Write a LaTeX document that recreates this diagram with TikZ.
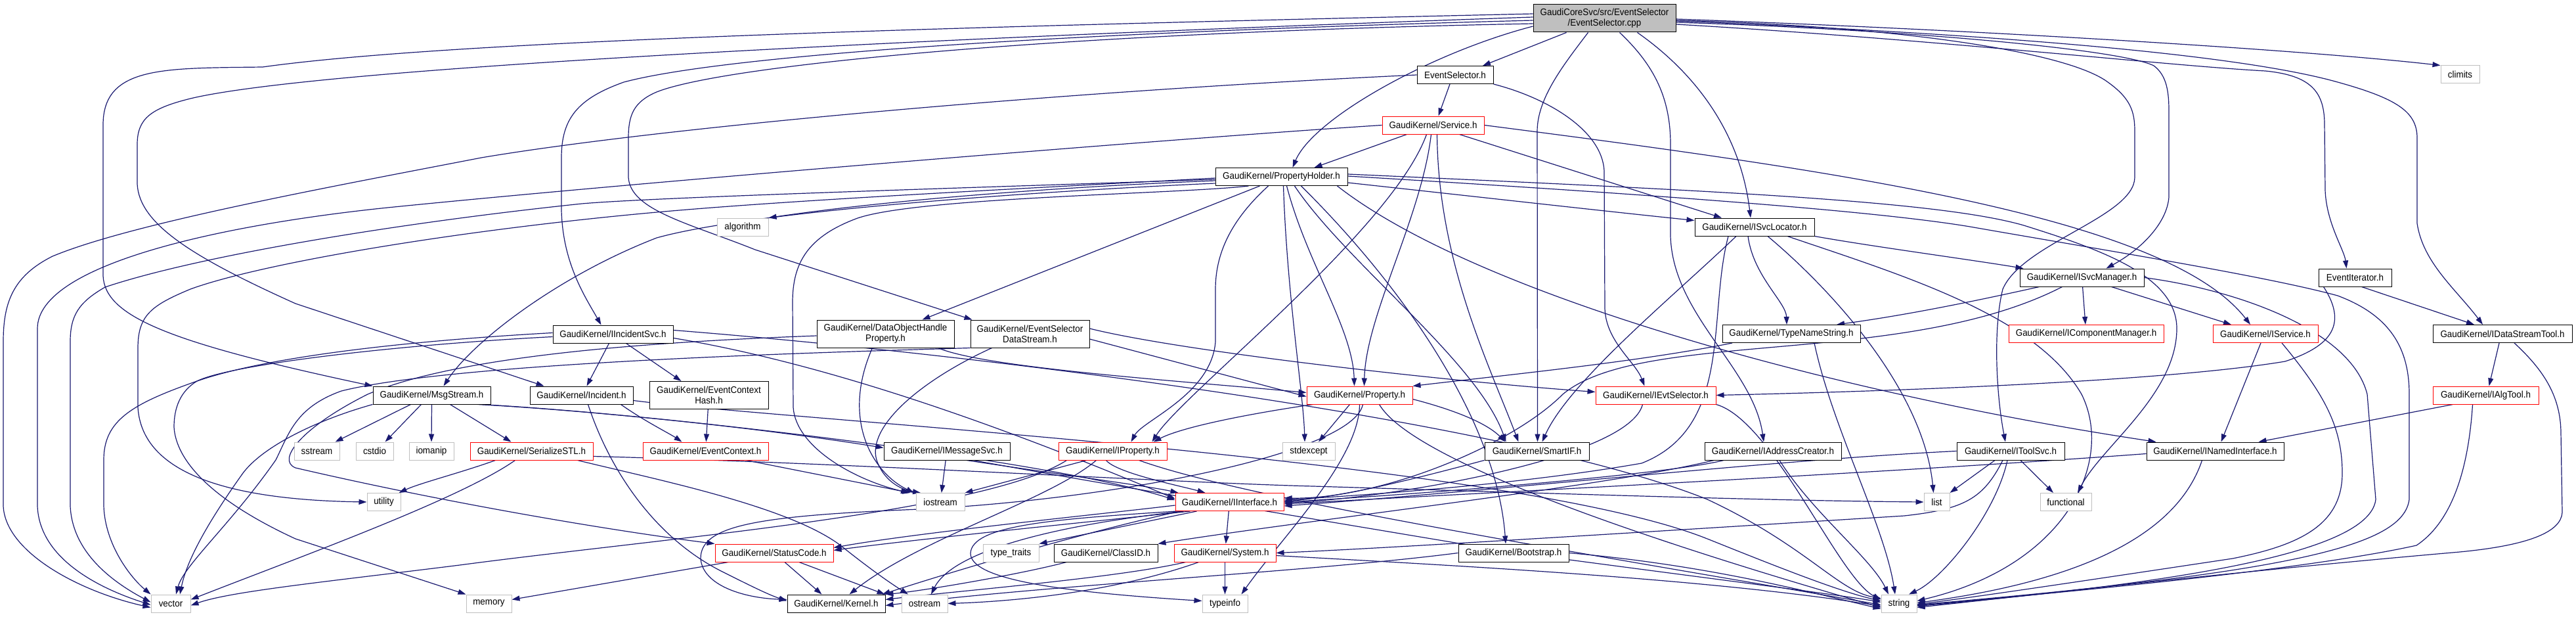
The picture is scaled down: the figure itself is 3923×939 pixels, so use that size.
\documentclass[tikz,border=0pt]{standalone}
\usepackage{fontspec}
\setmainfont{Liberation Sans}[FakeStretch=0.93]
\usetikzlibrary{arrows.meta}

\definecolor{azul}{HTML}{191970}
\definecolor{cinza}{HTML}{BFBFBF}
\pgfdeclarelayer{fundo}
\pgfsetlayers{fundo,main}

\begin{document}
\begin{tikzpicture}[
    x=1pt, y=1pt,
    every node/.style={rectangle, draw, fill=white, line width=1pt, inner sep=0pt,
      minimum height=27pt, align=center,
      font=\fontsize{14.4}{16}\selectfont},
    cab/.style={draw=black},
    cabv/.style={draw=red},
    sis/.style={draw=cinza},
    raiz/.style={draw=black, fill=cinza, minimum height=42pt},
    duas/.style={minimum height=42pt},
    incl/.style={draw=azul, line width=1.2pt, -{Triangle[length=12pt,width=8pt]}}
  ]
  \useasboundingbox (0,0) rectangle (3923,-939);

  % Arquivos
  \node[raiz, minimum width=217] (r) at (2443.5,-28) {GaudiCoreSvc/src/EventSelector\\/EventSelector.cpp};
  \node[cab, minimum width=116] (evsel) at (2216,-114) {EventSelector.h};
  \node[sis, minimum width=59] (climits) at (3746.5,-113.5) {climits};
  \node[cabv, minimum width=155] (service) at (2182.5,-190.5) {GaudiKernel/Service.h};
  \node[cab, minimum width=201] (propholder) at (1951.5,-269) {GaudiKernel/PropertyHolder.h};
  \node[sis, minimum width=78] (algorithm) at (1131,-345.5) {algorithm};
  \node[cab, minimum width=182] (isvclocator) at (2672,-345.5) {GaudiKernel/ISvcLocator.h};
  \node[cab, minimum width=189] (isvcmanager) at (3170.5,-422.5) {GaudiKernel/ISvcManager.h};
  \node[cab, minimum width=111] (eventiterator) at (3586.5,-422.5) {EventIterator.h};
  \node[cab, minimum width=183] (iincsvc) at (933.5,-508.5) {GaudiKernel/IIncidentSvc.h};
  \node[cab, duas, minimum width=209] (dohp) at (1348.5,-508) {GaudiKernel/DataObjectHandle\\Property.h};
  \node[cab, duas, minimum width=181] (esds) at (1568.5,-508) {GaudiKernel/EventSelector\\DataStream.h};
  \node[cab, minimum width=210] (typename) at (2728,-508) {GaudiKernel/TypeNameString.h};
  \node[cabv, minimum width=236] (icompmgr) at (3177,-508) {GaudiKernel/IComponentManager.h};
  \node[cabv, minimum width=160] (iservice) at (3450,-508) {GaudiKernel/IService.h};
  \node[cab, minimum width=212] (idstool) at (3811,-508) {GaudiKernel/IDataStreamTool.h};
  \node[cab, minimum width=179] (msgstream) at (657.5,-601.5) {GaudiKernel/MsgStream.h};
  \node[cab, minimum width=157] (incident) at (885.5,-601.5) {GaudiKernel/Incident.h};
  \node[cab, duas, minimum width=181] (ech) at (1079.5,-601.5) {GaudiKernel/EventContext\\Hash.h};
  \node[cabv, minimum width=161] (property) at (2070.5,-601.5) {GaudiKernel/Property.h};
  \node[cabv, minimum width=183] (ievtsel) at (2521.5,-601.5) {GaudiKernel/IEvtSelector.h};
  \node[cabv, minimum width=161] (ialgtool) at (3785.5,-601.5) {GaudiKernel/IAlgTool.h};
  \node[sis, minimum width=69] (sstream) at (482.5,-686.5) {sstream};
  \node[sis, minimum width=57] (cstdio) at (570.5,-686.5) {cstdio};
  \node[sis, minimum width=68] (iomanip) at (657,-686.5) {iomanip};
  \node[cabv, minimum width=187] (serstl) at (809.5,-686.5) {GaudiKernel/SerializeSTL.h};
  \node[cabv, minimum width=191] (evctx) at (1074.5,-686.5) {GaudiKernel/EventContext.h};
  \node[cab, minimum width=192] (imsgsvc) at (1442,-686.5) {GaudiKernel/IMessageSvc.h};
  \node[cabv, minimum width=165] (iprop) at (1694.5,-686.5) {GaudiKernel/IProperty.h};
  \node[sis, minimum width=80] (stdexcept) at (1993,-686.5) {stdexcept};
  \node[cab, minimum width=159] (smartif) at (2340.5,-686.5) {GaudiKernel/SmartIF.h};
  \node[cab, minimum width=208] (iaddr) at (2700,-686.5) {GaudiKernel/IAddressCreator.h};
  \node[cab, minimum width=164] (itoolsvc) at (3062,-686.5) {GaudiKernel/IToolSvc.h};
  \node[cab, minimum width=209] (inamed) at (3373.5,-686.5) {GaudiKernel/INamedInterface.h};
  \node[sis, minimum width=51] (utility) at (584.5,-764) {utility};
  \node[sis, minimum width=74] (iostream) at (1432,-764) {iostream};
  \node[cabv, minimum width=165] (iinterface) at (1872.5,-764) {GaudiKernel/IInterface.h};
  \node[sis, minimum width=39] (list) at (2949.5,-764) {list};
  \node[sis, minimum width=78] (functional) at (3146,-764) {functional};
  \node[cabv, minimum width=180] (statuscode) at (1179,-841.5) {GaudiKernel/StatusCode.h};
  \node[sis, minimum width=85] (typetraits) at (1539.5,-841.5) {type\_traits};
  \node[cab, minimum width=158] (classid) at (1684,-841.5) {GaudiKernel/ClassID.h};
  \node[cabv, minimum width=155] (system) at (1865.5,-841.5) {GaudiKernel/System.h};
  \node[cab, minimum width=168] (bootstrap) at (2305,-841.5) {GaudiKernel/Bootstrap.h};
  \node[sis, minimum width=60] (vector) at (260,-918.5) {vector};
  \node[sis, minimum width=69] (memory) at (744.5,-918.5) {memory};
  \node[cab, minimum width=149] (kernel) at (1273.5,-918.5) {GaudiKernel/Kernel.h};
  \node[sis, minimum width=70] (ostream) at (1408,-918.5) {ostream};
  \node[sis, minimum width=69] (typeinfo) at (1865.5,-918.5) {typeinfo};
  \node[sis, minimum width=54] (string) at (2892,-918.5) {string};

  \begin{pgfonlayer}{fundo}
  % Inclusoes do arquivo principal
  \draw[incl] ([xshift=-58]r.south) -- ([xshift=42]evsel.north);
  \draw[incl] ([yshift=-12]r.west) .. controls (2180,-80) and (2000,-180) .. ([xshift=17]propholder.north);
  \draw[incl] ([yshift=-3]r.west) .. controls (1600,-50) and (1100,-85) .. (950,-125) .. controls (880,-150) and (855,-180) .. (855,-240) -- (855,-320) .. controls (857,-400) and (890,-450) .. ([xshift=-18]iincsvc.north);
  \draw[incl] ([yshift=2]r.west) .. controls (1500,-55) and (500,-100) .. (290,-150) .. controls (230,-165) and (209,-180) .. (209,-220) -- (209,-280) .. controls (212,-340) and (290,-390) .. (450,-462) -- ([xshift=-57]incident.north);
  \draw[incl] ([yshift=7]r.west) .. controls (1500,-40) and (700,-60) .. (400,-102) .. controls (250,-104) and (157,-100) .. (157,-190) -- (157,-420) .. controls (160,-480) and (250,-520) .. (msgstream.north west);
  \draw[incl] ([yshift=-8]r.west) .. controls (1600,-50) and (1100,-100) .. (1000,-140) .. controls (965,-155) and (957,-175) .. (957,-210) -- (957,-270) .. controls (960,-320) and (1050,-340) .. (1150,-380) -- ([xshift=-88]esds.north);
  \draw[incl] ([xshift=-25]r.south) .. controls (2380,-100) and (2341,-150) .. (2341,-200) -- ([xshift=1]smartif.north);
  \draw[incl] ([xshift=23]r.south) .. controls (2520,-100) and (2544,-150) .. (2544,-220) -- (2544,-360) .. controls (2548,-480) and (2670,-560) .. ([xshift=-14]iaddr.north);
  \draw[incl] ([xshift=50]r.south) .. controls (2580,-110) and (2650,-200) .. ([xshift=-6]isvclocator.north);
  \draw[incl] ([yshift=-6]r.east) .. controls (2900,-45) and (3230,-75) .. (3280,-100) .. controls (3300,-115) and (3303,-140) .. (3303,-170) -- (3303,-300) .. controls (3300,-340) and (3260,-380) .. ([xshift=37]isvcmanager.north);
  \draw[incl] ([yshift=-3]r.east) .. controls (2900,-40) and (3150,-80) .. (3210,-125) .. controls (3245,-150) and (3251,-170) .. (3251,-200) -- (3251,-270) .. controls (3250,-330) and (3080,-370) .. (3050,-440) .. controls (3035,-500) and (3040,-600) .. ([xshift=-8]itoolsvc.north);
  \draw[incl] ([yshift=-9]r.east) .. controls (2950,-60) and (3300,-100) .. (3450,-108) .. controls (3520,-115) and (3540,-140) .. (3540,-190) -- (3541,-290) .. controls (3543,-340) and (3570,-380) .. ([xshift=-13]eventiterator.north);
  \draw[incl] ([yshift=-4]r.east) .. controls (3000,-50) and (3400,-80) .. (3560,-125) .. controls (3650,-150) and (3681,-170) .. (3681,-210) -- (3681,-340) .. controls (3690,-400) and (3740,-440) .. ([xshift=-30]idstool.north);
  \draw[incl] ([yshift=-1]r.east) .. controls (3000,-45) and (3500,-75) .. (climits.north west);

  % EventSelector.h e Service.h
  \draw[incl] ([xshift=-8]evsel.south) -- ([xshift=8]service.north);
  \draw[incl] (evsel.south east) .. controls (2360,-150) and (2440,-200) .. (2443,-260) -- (2444,-470) .. controls (2446,-520) and (2490,-550) .. ([xshift=-17]ievtsel.north);
  \draw[incl] (evsel.west) .. controls (1600,-140) and (1000,-195) .. (733,-240) .. controls (500,-285) and (200,-340) .. (80,-390) .. controls (20,-420) and (5,-460) .. (5,-520) -- (5,-770) .. controls (8,-840) and (120,-900) .. ([yshift=-6]vector.west);
  \draw[incl] ([xshift=-40]service.south) -- ([xshift=50]propholder.north);
  \draw[incl] ([xshift=-10]service.south) .. controls (2120,-350) and (1800,-600) .. ([xshift=60]iprop.north);
  \draw[incl] ([xshift=-3]service.south) .. controls (2165,-330) and (2080,-480) .. ([xshift=7]property.north);
  \draw[incl] ([xshift=6]service.south) .. controls (2190,-400) and (2270,-560) .. ([xshift=-28]smartif.north);
  \draw[incl] ([xshift=40]service.south) -- ([xshift=-50]isvclocator.north);
  \draw[incl] (service.east) .. controls (2800,-260) and (3300,-330) .. ([xshift=-23]iservice.north);
  \draw[incl] (service.west) .. controls (1800,-210) and (1000,-275) .. (600,-315) .. controls (350,-340) and (57,-400) .. (57,-500) -- (57,-770) .. controls (60,-850) and (150,-895) .. ([yshift=-2]vector.west);

  % PropertyHolder.h
  \draw[incl] ([yshift=-6]propholder.west) .. controls (1600,-285) and (1350,-305) .. (algorithm.north east);
  \draw[incl] ([yshift=-4]propholder.west) .. controls (1500,-285) and (1000,-300) .. (886,-310) .. controls (600,-340) and (300,-390) .. (160,-437) .. controls (120,-460) and (107,-480) .. (107,-520) -- (107,-770) .. controls (110,-840) and (170,-885) .. ([yshift=2]vector.west);
  \draw[incl] ([yshift=-2]propholder.west) .. controls (1500,-290) and (1200,-305) .. (1000,-323) .. controls (700,-350) and (400,-400) .. (290,-440) .. controls (230,-465) and (210,-480) .. (210,-530) -- (210,-620) .. controls (215,-700) and (300,-760) .. (utility.west);
  \draw[incl] ([yshift=-10]propholder.west) .. controls (1600,-290) and (1150,-320) .. (1000,-362) .. controls (850,-420) and (720,-520) .. ([xshift=18]msgstream.north);
  \draw[incl] ([xshift=-33]propholder.south) -- ([xshift=56]dohp.north);
  \draw[incl] ([xshift=-50]propholder.south) .. controls (1800,-295) and (1400,-300) .. (1306,-332) .. controls (1230,-360) and (1207,-400) .. (1207,-460) -- (1208,-620) .. controls (1212,-680) and (1300,-730) .. ([xshift=-48]iostream.north);
  \draw[incl] ([xshift=-20]propholder.south) .. controls (1880,-330) and (1851,-380) .. (1851,-440) -- (1851,-520) .. controls (1845,-600) and (1740,-640) .. ([xshift=28]iprop.north);
  \draw[incl] ([xshift=8]propholder.south) .. controls (1990,-400) and (2060,-500) .. ([xshift=-8]property.north);
  \draw[incl] ([xshift=3]propholder.south) .. controls (1960,-450) and (1985,-600) .. ([xshift=-6]stdexcept.north);
  \draw[incl] ([xshift=20]propholder.south) .. controls (2050,-400) and (2250,-550) .. ([xshift=-47]smartif.north);
  \draw[incl] ([xshift=30]propholder.south) .. controls (2150,-450) and (2280,-650) .. ([xshift=-12]bootstrap.north);
  \draw[incl] ([yshift=-9]propholder.east) .. controls (2300,-305) and (2450,-322) .. ([yshift=10]isvclocator.west);
  \draw[incl] ([xshift=85]propholder.south) .. controls (2250,-450) and (2800,-600) .. ([xshift=-90]inamed.north);
  \draw[incl] ([yshift=4]propholder.east) .. controls (2600,-290) and (2950,-305) .. (3082,-343) .. controls (3200,-380) and (3315,-420) .. (3315,-500) .. controls (3315,-600) and (3200,-680) .. ([xshift=18]functional.north);
  \draw[incl] ([yshift=1]propholder.east) .. controls (2500,-295) and (2850,-320) .. (3000,-345) .. controls (3200,-380) and (3450,-420) .. (3560,-450) .. controls (3640,-480) and (3669,-530) .. (3669,-600) -- (3669,-760) .. controls (3660,-830) and (3500,-870) .. ([yshift=-2]string.east);

  % ISvcLocator.h, ISvcManager.h, TypeNameString.h
  \draw[incl] (isvclocator.south east) .. controls (2850,-375) and (3000,-395) .. ([xshift=6]isvcmanager.north west);
  \draw[incl] ([xshift=-10]isvclocator.south) .. controls (2670,-420) and (2720,-460) .. ([xshift=-7]typename.north);
  \draw[incl] ([xshift=-28]isvclocator.south) .. controls (2550,-450) and (2390,-580) .. ([xshift=8]smartif.north);
  \draw[incl] ([xshift=-40]isvclocator.south) .. controls (2600,-480) and (2640,-650) .. (2500,-705) .. controls (2300,-740) and (2050,-755) .. ([yshift=3]iinterface.east);
  \draw[incl] ([xshift=20]isvclocator.south) .. controls (2800,-450) and (2930,-600) .. ([xshift=-5]list.north);
  \draw[incl] ([xshift=50]isvclocator.south) .. controls (2900,-420) and (3100,-480) .. (3170,-600) .. controls (3220,-700) and (3150,-860) .. ([yshift=4]string.east);
  \draw[incl] (isvcmanager) -- (icompmgr);
  \draw[incl] ([xshift=45]isvcmanager.south) -- ([xshift=-52]iservice.north);
  \draw[incl] ([xshift=-65]isvcmanager.south) .. controls (3000,-460) and (2900,-480) .. ([xshift=69]typename.north);
  \draw[incl] ([xshift=-30]isvcmanager.south) .. controls (2900,-560) and (2500,-500) .. (2380,-600) .. controls (2300,-680) and (2100,-760) .. ([yshift=6]iinterface.east);
  \draw[incl] (isvcmanager.east) .. controls (3400,-440) and (3580,-500) .. (3605,-600) -- (3618,-760) .. controls (3610,-830) and (3400,-880) .. ([yshift=-4]string.east);
  \draw[incl] ([xshift=-90]typename.south) .. controls (2500,-550) and (2300,-570) .. (property.north east);
  \draw[incl] ([xshift=35]typename.south) .. controls (2790,-650) and (2870,-800) .. ([xshift=-6]string.north);

  % EventIterator.h, ferramentas e interfaces
  \draw[incl] ([xshift=-48]eventiterator.south) .. controls (3580,-500) and (3540,-530) .. (3480,-550) .. controls (3300,-580) and (2900,-595) .. (ievtsel.east);
  \draw[incl] ([xshift=10]eventiterator.south) -- ([xshift=-43]idstool.north);
  \draw[incl] ([xshift=-5]idstool.south) -- ([xshift=5]ialgtool.north);
  \draw[incl] ([xshift=18]idstool.south) .. controls (3870,-560) and (3900,-600) .. (3900,-660) -- (3902,-780) .. controls (3900,-810) and (3850,-830) .. (3746,-840) .. controls (3400,-870) and (3100,-905) .. ([yshift=-6]string.east);
  \draw[incl] ([xshift=-50]ialgtool.south) -- ([xshift=66]inamed.north);
  \draw[incl] ([xshift=-20]ialgtool.south) .. controls (3760,-700) and (3740,-790) .. (3680,-830) .. controls (3500,-870) and (3100,-905) .. ([yshift=-3]string.east);
  \draw[incl] ([xshift=-7]iservice.south) -- ([xshift=9]inamed.north);
  \draw[incl] ([xshift=25]iservice.south) .. controls (3540,-600) and (3567,-650) .. (3567,-720) .. controls (3567,-800) and (3500,-830) .. (3400,-850) .. controls (3200,-880) and (3000,-910) .. ([yshift=-1]string.east);
  \draw[incl] ([yshift=-4]inamed.west) .. controls (2900,-718) and (2300,-748) .. ([yshift=-3]iinterface.east);
  \draw[incl] ([xshift=-20]inamed.south) .. controls (3320,-800) and (3200,-880) .. ([yshift=1]string.east);
  \draw[incl] (itoolsvc.west) .. controls (2700,-700) and (2300,-745) .. ([yshift=-6]iinterface.east);
  \draw[incl] ([xshift=-24]itoolsvc.south) -- (list.north east);
  \draw[incl] ([xshift=15]itoolsvc.south) -- ([xshift=-19]functional.north);
  \draw[incl] ([xshift=-5]itoolsvc.south) .. controls (3040,-780) and (2960,-880) .. ([xshift=15]string.north);
  \draw[incl] ([xshift=-12]itoolsvc.south) .. controls (3020,-760) and (2990,-775) .. (2900,-785) .. controls (2500,-810) and (2100,-835) .. (system.east);
  \draw[incl] ([xshift=-75]iaddr.south) .. controls (2550,-720) and (2200,-750) .. (iinterface.east);
  \draw[incl] ([xshift=-90]iaddr.south) .. controls (2450,-740) and (2000,-790) .. (classid.north east);
  \draw[incl] ([xshift=10]iaddr.south) .. controls (2760,-780) and (2850,-850) .. ([xshift=-16]string.north);
  \draw[incl] ([xshift=-20]ievtsel.south) .. controls (2480,-700) and (2100,-760) .. ([yshift=-1]iinterface.east);
  \draw[incl] (ievtsel.south east) .. controls (2700,-640) and (2800,-880) .. ([yshift=6]string.west);
  \draw[incl] (smartif.south west) .. controls (2150,-730) and (2050,-755) .. ([yshift=1]iinterface.east);

  % IIncidentSvc.h, MsgStream.h, Incident.h
  \draw[incl] ([xshift=-6]iincsvc.south) -- ([xshift=8]incident.north);
  \draw[incl] ([xshift=20]iincsvc.south) -- ([xshift=-42]ech.north);
  \draw[incl] ([yshift=2]iincsvc.west) .. controls (600,-520) and (400,-545) .. (300,-580) .. controls (200,-615) and (158,-640) .. (158,-700) -- (158,-770) .. controls (160,-830) and (200,-880) .. (vector.north west);
  \draw[incl] ([yshift=-4]iincsvc.west) .. controls (600,-525) and (350,-555) .. (300,-580) .. controls (275,-595) and (265,-620) .. (265,-650) .. controls (268,-700) and (320,-760) .. (450,-820) -- (memory.north west);
  \draw[incl] ([yshift=-6]iincsvc.east) .. controls (1300,-560) and (1600,-680) .. ([yshift=5]iinterface.west);
  \draw[incl] ([yshift=6]iincsvc.east) .. controls (1500,-540) and (2300,-640) .. (2600,-760) .. controls (2750,-830) and (2800,-900) .. ([yshift=8]string.west);
  \draw[incl] ([xshift=-32]msgstream.south) -- ([xshift=28]sstream.north);
  \draw[incl] ([xshift=-16]msgstream.south) -- ([xshift=16]cstdio.north);
  \draw[incl] (msgstream.south) -- (iomanip.north);
  \draw[incl] ([xshift=28]msgstream.south) -- ([xshift=-31]serstl.north);
  \draw[incl] (msgstream.south west) .. controls (480,-640) and (400,-680) .. (370,-720) .. controls (320,-790) and (285,-850) .. ([xshift=14]vector.north);
  \draw[incl] ([xshift=70]msgstream.south) .. controls (900,-625) and (1150,-650) .. ([yshift=5]imsgsvc.west);
  \draw[incl] ([xshift=75]msgstream.south) .. controls (1000,-630) and (1600,-700) .. ([yshift=3]iinterface.west);
  \draw[incl] ([xshift=10]incident.south) .. controls (930,-720) and (1000,-820) .. (1100,-870) .. controls (1140,-890) and (1170,-905) .. ([yshift=4]kernel.west);
  \draw[incl] ([xshift=60]incident.south) .. controls (980,-640) and (1020,-660) .. ([xshift=-36]evctx.north);
  \draw[incl] ([yshift=-8]incident.east) .. controls (1200,-640) and (2300,-700) .. (2600,-820) .. controls (2700,-860) and (2800,-900) .. ([yshift=4]string.west);
  \draw[incl] (ech) -- (evctx);
  \draw[incl] ([xshift=62]evctx.south) -- ([xshift=-8]iostream.north west);
  \draw[incl] ([xshift=-55]serstl.south) .. controls (700,-720) and (640,-735) .. ([xshift=-3]utility.north east);
  \draw[incl] ([xshift=-25]serstl.south) .. controls (700,-760) and (450,-850) .. ([yshift=6]vector.east);
  \draw[incl] ([xshift=70]serstl.south) .. controls (1000,-730) and (1200,-770) .. (1280,-830) .. controls (1330,-870) and (1360,-890) .. ([xshift=-25]ostream.north);
  \draw[incl] ([yshift=-8]serstl.east) .. controls (1300,-705) and (1800,-735) .. (2000,-740) .. controls (2400,-752) and (2700,-762) .. (list.west);

  % DataObjectHandleProperty.h e EventSelectorDataStream.h
  \draw[incl] ([xshift=-20]dohp.south) .. controls (1280,-640) and (1330,-720) .. ([xshift=-40]iostream.north);
  \draw[incl] ([xshift=80]dohp.south) .. controls (1500,-560) and (1800,-580) .. ([yshift=4]property.west);
  \draw[incl] ([yshift=-3]dohp.west) .. controls (1000,-520) and (700,-540) .. (560,-600) .. controls (460,-650) and (420,-700) .. (450,-712) .. controls (700,-770) and (950,-810) .. (statuscode.north west);
  \draw[incl] (esds.south west) .. controls (1300,-535) and (700,-550) .. (520,-595) .. controls (450,-620) and (440,-660) .. (420,-700) .. controls (350,-800) and (280,-860) .. ([xshift=8]vector.north);
  \draw[incl] ([yshift=-8]esds.east) .. controls (1750,-540) and (1900,-580) .. ([yshift=-2]property.west);
  \draw[incl] ([yshift=8]esds.east) .. controls (1800,-535) and (2200,-580) .. ([yshift=5]ievtsel.west);
  \draw[incl] ([xshift=-58]esds.south) .. controls (1400,-580) and (1320,-650) .. (1335,-700) .. controls (1345,-730) and (1370,-745) .. ([xshift=-30]iostream.north);

  % IMessageSvc.h, IProperty.h, Property.h
  \draw[incl] (imsgsvc) -- (iostream);
  \draw[incl] ([xshift=30]imsgsvc.south) .. controls (1600,-720) and (1750,-740) .. ([xshift=5]iinterface.north west);
  \draw[incl] ([xshift=40]imsgsvc.south) .. controls (1700,-740) and (2000,-790) .. (2300,-840) .. controls (2600,-880) and (2800,-905) .. ([yshift=2]string.west);
  \draw[incl] ([xshift=-40]iprop.south) -- (iostream.north east);
  \draw[incl] ([xshift=-10]iprop.south) .. controls (1700,-720) and (1800,-740) .. ([xshift=-37]iinterface.north);
  \draw[incl] ([xshift=-25]iprop.south) .. controls (1600,-760) and (1400,-820) .. ([xshift=20]kernel.north);
  \draw[incl] ([xshift=40]iprop.south) .. controls (1900,-760) and (2400,-840) .. ([yshift=-2]string.west);
  \draw[incl] ([xshift=-70]iprop.south) .. controls (1500,-780) and (1000,-820) .. (700,-860) .. controls (500,-885) and (350,-900) .. ([yshift=-3]vector.east);
  \draw[incl] ([xshift=10]property.south west) .. controls (1900,-630) and (1800,-650) .. ([xshift=62]iprop.north);
  \draw[incl] ([yshift=-6]property.east) .. controls (2200,-620) and (2260,-640) .. ([xshift=-48]smartif.north);
  \draw[incl] ([xshift=-15]property.south) -- ([xshift=15]stdexcept.north);
  \draw[incl] (property.south) .. controls (2070,-700) and (1950,-820) .. ([xshift=25]typeinfo.north);
  \draw[incl] ([xshift=30]property.south) .. controls (2150,-700) and (2500,-820) .. ([yshift=-6]string.west);
  \draw[incl] ([xshift=5]property.south) .. controls (2060,-690) and (1700,-760) .. (1400,-775) .. controls (1150,-785) and (1067,-800) .. (1067,-850) .. controls (1070,-890) and (1130,-910) .. ([yshift=6]kernel.west);

  % IInterface.h e o resto
  \draw[incl] ([yshift=-5]iinterface.west) .. controls (1700,-780) and (1400,-810) .. ([yshift=8]statuscode.east);
  \draw[incl] ([xshift=-60]iinterface.south) .. controls (1700,-790) and (1400,-820) .. ([yshift=4]statuscode.east);
  \draw[incl] ([xshift=-50]iinterface.south) -- (typetraits.north east);
  \draw[incl] (iinterface) -- (system);
  \draw[incl] ([xshift=-75]iinterface.south) .. controls (1650,-810) and (1450,-870) .. ([xshift=-5]kernel.north east);
  \draw[incl] ([xshift=-70]iinterface.south) .. controls (1600,-800) and (1450,-840) .. ([xshift=10]ostream.north);
  \draw[incl] ([xshift=-80]iinterface.south) .. controls (1600,-790) and (1480,-800) .. (1478,-842) .. controls (1478,-880) and (1600,-900) .. ([yshift=4]typeinfo.west);
  \draw[incl] ([xshift=16]statuscode.south) -- ([xshift=-22]kernel.north);
  \draw[incl] ([xshift=38]statuscode.south) -- ([xshift=-25]ostream.north west);
  \draw[incl] ([xshift=-70]statuscode.south) -- ([yshift=6]memory.east);
  \draw[incl] ([xshift=-60]classid.south) .. controls (1550,-875) and (1400,-900) .. (kernel.north east);
  \draw[incl] (system) -- (typeinfo);
  \draw[incl] ([xshift=-60]system.south) .. controls (1700,-880) and (1450,-900) .. ([yshift=6]kernel.east);
  \draw[incl] ([xshift=-40]system.south) .. controls (1700,-900) and (1550,-915) .. (ostream.east);
  \draw[incl] ([yshift=-4]system.east) .. controls (2200,-860) and (2600,-880) .. ([yshift=-4]string.west);
  \draw[incl] (bootstrap.east) .. controls (2600,-860) and (2750,-900) .. ([yshift=-8]string.west);
  \draw[incl] (bootstrap.west) .. controls (2000,-870) and (1600,-890) .. ([yshift=-3]kernel.east);
  \end{pgfonlayer}
\end{tikzpicture}
\end{document}
